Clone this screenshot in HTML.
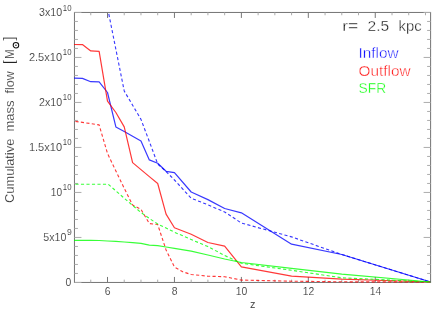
<!DOCTYPE html>
<html><head><meta charset="utf-8"><title>plot</title>
<style>
html,body{margin:0;padding:0;background:#fff;}
svg{display:block;font-family:"Liberation Sans",sans-serif;}
.a{font-size:10.4px;fill:#333;}
.s{font-size:8.6px;fill:#333;}
.t{font-size:14px;fill:#1a1a1a;}
.yl{font-size:12.3px;fill:#222;}
text{stroke:#fff;stroke-width:0.12px;paint-order:fill stroke;}
text.t{stroke-width:0.3px;}
text.yl{stroke-width:0.2px;}
text.lg{stroke-width:0.4px;}
.c{fill:none;stroke-width:1.2;stroke-opacity:0.78;stroke-linejoin:round;}
.d{stroke-width:1.12;stroke-dasharray:3.15 2.35;stroke-dashoffset:4.1;}
</style></head><body>
<svg width="436" height="312" viewBox="0 0 436 312">
<rect width="436" height="312" fill="#fff"/>
<defs><clipPath id="cp"><rect x="74" y="12" width="357" height="271"/></clipPath></defs>
<rect x="74.45" y="12.45" width="356.15000000000003" height="270.0" fill="none" stroke="#747474" stroke-width="1"/>
<path d="M74.45,282.45h7M430.6,282.45h-7M74.45,273.45h3.5M430.6,273.45h-3.5M74.45,264.45h3.5M430.6,264.45h-3.5M74.45,255.45h3.5M430.6,255.45h-3.5M74.45,246.45h3.5M430.6,246.45h-3.5M74.45,237.45h7M430.6,237.45h-7M74.45,228.45h3.5M430.6,228.45h-3.5M74.45,219.45h3.5M430.6,219.45h-3.5M74.45,210.45h3.5M430.6,210.45h-3.5M74.45,201.45h3.5M430.6,201.45h-3.5M74.45,192.45h7M430.6,192.45h-7M74.45,183.45h3.5M430.6,183.45h-3.5M74.45,174.45h3.5M430.6,174.45h-3.5M74.45,165.45h3.5M430.6,165.45h-3.5M74.45,156.45h3.5M430.6,156.45h-3.5M74.45,147.45h7M430.6,147.45h-7M74.45,138.45h3.5M430.6,138.45h-3.5M74.45,129.45h3.5M430.6,129.45h-3.5M74.45,120.45h3.5M430.6,120.45h-3.5M74.45,111.45h3.5M430.6,111.45h-3.5M74.45,102.45h7M430.6,102.45h-7M74.45,93.45h3.5M430.6,93.45h-3.5M74.45,84.45h3.5M430.6,84.45h-3.5M74.45,75.45h3.5M430.6,75.45h-3.5M74.45,66.45h3.5M430.6,66.45h-3.5M74.45,57.45h7M430.6,57.45h-7M74.45,48.45h3.5M430.6,48.45h-3.5M74.45,39.45h3.5M430.6,39.45h-3.5M74.45,30.45h3.5M430.6,30.45h-3.5M74.45,21.45h3.5M430.6,21.45h-3.5M74.45,12.45h7M430.6,12.45h-7" fill="none" stroke="#adadad" stroke-width="1"/>
<path d="M107.50,282.45v-5.5M107.50,12.45v5.5M174.44,282.45v-5.5M174.44,12.45v5.5M241.38,282.45v-5.5M241.38,12.45v5.5M308.32,282.45v-5.5M308.32,12.45v5.5M375.26,282.45v-5.5M375.26,12.45v5.5" fill="none" stroke="#777" stroke-width="1"/>
<path d="M90.77,282.45v-2.8M90.77,12.45v2.8M124.23,282.45v-2.8M124.23,12.45v2.8M140.97,282.45v-2.8M140.97,12.45v2.8M157.70,282.45v-2.8M157.70,12.45v2.8M191.18,282.45v-2.8M191.18,12.45v2.8M207.91,282.45v-2.8M207.91,12.45v2.8M224.65,282.45v-2.8M224.65,12.45v2.8M258.12,282.45v-2.8M258.12,12.45v2.8M274.85,282.45v-2.8M274.85,12.45v2.8M291.59,282.45v-2.8M291.59,12.45v2.8M325.05,282.45v-2.8M325.05,12.45v2.8M341.79,282.45v-2.8M341.79,12.45v2.8M358.52,282.45v-2.8M358.52,12.45v2.8M392.00,282.45v-2.8M392.00,12.45v2.8M408.73,282.45v-2.8M408.73,12.45v2.8M425.47,282.45v-2.8M425.47,12.45v2.8" fill="none" stroke="#aaa" stroke-width="1"/>
<g clip-path="url(#cp)">
<path class="c" stroke="#0000ff" d="M74.03,78.20 L82.40,78.40 L90.77,81.70 L99.13,81.80 L107.50,92.50 L115.87,126.90 L124.23,131.60 L132.60,136.20 L140.97,140.90 L149.34,159.90 L157.70,163.30 L166.07,171.30 L174.44,172.70 L191.18,192.00 L207.91,199.60 L224.65,208.50 L241.38,212.80 L291.59,244.20 L341.79,254.50 L430.62,282.00"/>
<path class="c d" stroke="#0000ff" d="M74.03,-160.00 L82.40,-118.00 L90.77,-76.00 L99.13,-34.00 L107.50,7.50 L115.87,49.30 L124.23,91.00 L132.60,105.20 L140.97,119.40 L149.34,141.50 L157.70,164.00 L166.07,171.50 L174.44,180.00 L191.18,198.20 L207.91,204.80 L224.65,212.00 L241.38,223.00 L291.59,236.90 L341.79,254.50 L430.62,282.00"/>
<path class="c" stroke="#ff0000" d="M74.03,44.50 L82.40,44.60 L90.77,50.90 L99.13,51.40 L107.50,101.20 L115.87,112.50 L124.23,126.90 L132.60,162.60 L140.97,169.60 L149.34,176.60 L157.70,183.50 L166.07,214.10 L174.44,227.80 L191.18,234.20 L207.91,242.50 L224.65,246.20 L241.38,266.90 L291.59,276.20 L341.79,279.20 L430.62,282.00"/>
<path class="c d" stroke="#ff0000" d="M74.03,121.20 L82.40,122.40 L90.77,123.60 L99.13,124.90 L107.50,153.50 L115.87,171.00 L124.23,188.30 L132.60,205.00 L140.97,209.40 L149.34,223.50 L157.70,224.50 L166.07,250.00 L174.44,267.00 L182.81,271.80 L191.18,274.50 L207.91,276.20 L224.65,276.70 L241.38,280.10 L291.59,281.20 L341.79,281.80 L430.62,282.00"/>
<path class="c" stroke="#00ff00" d="M74.03,240.40 L82.40,240.40 L90.77,240.40 L99.13,240.50 L107.50,241.00 L115.87,241.40 L124.23,242.00 L132.60,242.70 L140.97,243.40 L149.34,245.10 L157.70,245.60 L166.07,247.00 L174.44,248.40 L191.18,251.20 L207.91,255.00 L224.65,259.00 L241.38,262.50 L291.59,268.30 L341.79,274.20 L430.62,282.00"/>
<path class="c d" stroke="#00ff00" d="M74.03,184.20 L82.40,184.20 L90.77,184.20 L99.13,184.20 L108.20,184.20 L115.87,190.90 L124.23,198.20 L132.60,205.40 L140.97,212.50 L149.34,218.40 L157.70,224.00 L166.07,228.00 L174.44,232.20 L191.18,239.50 L207.91,246.60 L224.65,255.50 L241.38,263.30 L291.59,270.30 L341.79,277.80 L430.62,282.00"/>
</g>
<g style="filter:opacity(1)">
<text x="39.0" y="16.0" textLength="23.1" lengthAdjust="spacingAndGlyphs" class="a">3x10</text><text x="62.8" y="10.5" textLength="8.7" lengthAdjust="spacingAndGlyphs" class="s">10</text>
<text x="28.9" y="60.7" textLength="33.2" lengthAdjust="spacingAndGlyphs" class="a">2.5x10</text><text x="62.8" y="55.2" textLength="8.7" lengthAdjust="spacingAndGlyphs" class="s">10</text>
<text x="39.0" y="105.7" textLength="23.1" lengthAdjust="spacingAndGlyphs" class="a">2x10</text><text x="62.8" y="100.2" textLength="8.7" lengthAdjust="spacingAndGlyphs" class="s">10</text>
<text x="28.9" y="150.7" textLength="33.2" lengthAdjust="spacingAndGlyphs" class="a">1.5x10</text><text x="62.8" y="145.2" textLength="8.7" lengthAdjust="spacingAndGlyphs" class="s">10</text>
<text x="50.8" y="195.7" textLength="11.300000000000004" lengthAdjust="spacingAndGlyphs" class="a">10</text><text x="62.8" y="190.2" textLength="8.7" lengthAdjust="spacingAndGlyphs" class="s">10</text>
<text x="43.3" y="240.7" textLength="23.10000000000001" lengthAdjust="spacingAndGlyphs" class="a">5x10</text><text x="67.10000000000001" y="235.2" class="s">9</text>
<text x="71.3" y="286" text-anchor="end" class="a">0</text>
<text x="107.7" y="295.3" text-anchor="middle" class="a">6</text>
<text x="174.64" y="295.3" text-anchor="middle" class="a">8</text>
<text x="241.57999999999998" y="295.3" text-anchor="middle" class="a">10</text>
<text x="308.52" y="295.3" text-anchor="middle" class="a">12</text>
<text x="375.46" y="295.3" text-anchor="middle" class="a">14</text>
<text x="252.8" y="307.5" text-anchor="middle" style="font-size:11px" class="a">z</text>
<text x="342.3" y="30.6" textLength="16" lengthAdjust="spacingAndGlyphs" class="t">r=</text>
<text x="367.6" y="30.6" textLength="21.6" lengthAdjust="spacingAndGlyphs" class="t">2.5</text>
<text x="398.6" y="30.6" textLength="23" lengthAdjust="spacingAndGlyphs" class="t">kpc</text>
<text x="358.6" y="57.5" textLength="40" lengthAdjust="spacingAndGlyphs" class="t lg" style="fill:#0000ff">Inflow</text>
<text x="358.6" y="75.5" textLength="52" lengthAdjust="spacingAndGlyphs" class="t lg" style="fill:#ff0000">Outflow</text>
<text x="358.6" y="93.3" textLength="27.5" lengthAdjust="spacingAndGlyphs" class="t lg" style="fill:#00ff00">SFR</text>
<g transform="translate(14.3,0) rotate(-90)">
<text x="-203" y="0" textLength="64.3" lengthAdjust="spacingAndGlyphs" class="yl">Cumulative</text>
<text x="-131.6" y="0" textLength="31" lengthAdjust="spacingAndGlyphs" class="yl">mass</text>
<text x="-93.5" y="0" textLength="22.3" lengthAdjust="spacingAndGlyphs" class="yl">flow</text>
<text x="-64.1" y="-0.4" class="yl" style="font-size:14.0px">[</text>
<text x="-58.9" y="-0.4" textLength="9.75" lengthAdjust="spacingAndGlyphs" class="yl" style="font-size:12.4px">M</text>
<text x="-40.6" y="-0.4" class="yl" style="font-size:14.0px">]</text>
<circle cx="-45.25" cy="1.65" r="2.75" fill="none" stroke="#111" stroke-width="1.05"/>
<circle cx="-45.25" cy="1.65" r="0.75" fill="#111"/>
</g>
</g>
</svg>
</body></html>
